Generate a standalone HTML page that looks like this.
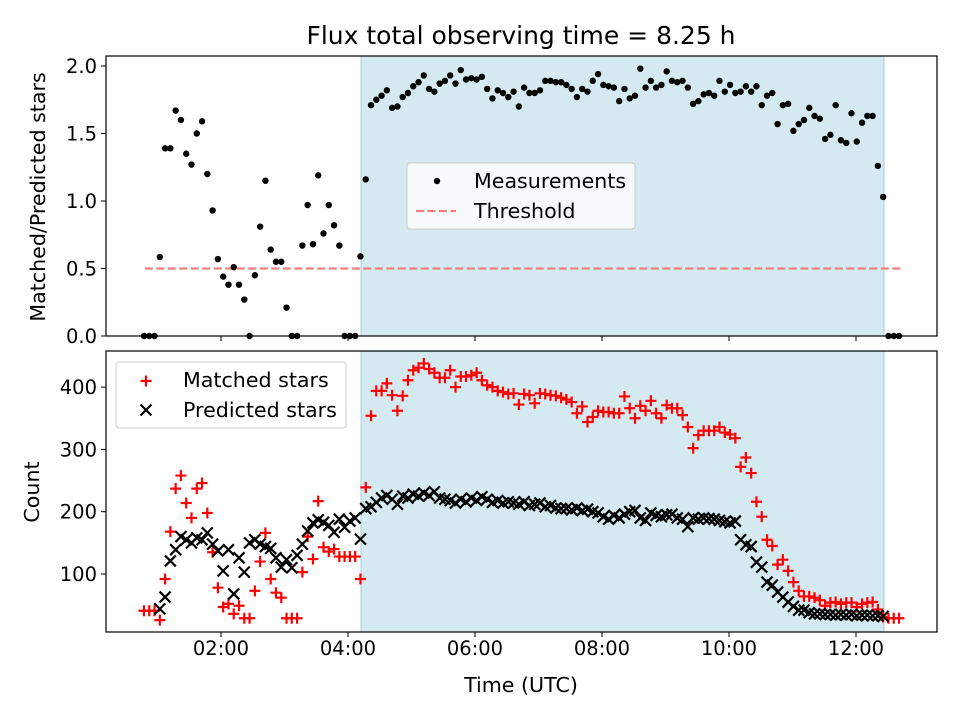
<!DOCTYPE html>
<html><head><meta charset="utf-8"><style>
body{margin:0;background:#fff;}
svg{display:block;font-family:"DejaVu Sans","Liberation Sans",sans-serif;}
</style></head><body>
<svg id="chart" width="960" height="720" viewBox="0 0 960 720"></svg>
<script>
// ---- data ----
const startHour = 0.787;
const stepHour = 0.08315;
const ratioValues = [0,0,0,0.585,1.39,1.39,1.67,1.60,1.35,1.27,1.50,1.59,1.20,0.93,0.57,0.44,0.38,0.51,0.38,0.27,0,0.45,0.81,1.15,0.64,0.55,0.55,0.21,0,0,0.67,0.97,0.68,1.19,0.76,0.97,0.82,0.67,0,0,0,0.59,1.16,
1.71,1.75,1.78,1.82,1.69,1.70,1.77,1.80,1.85,1.88,1.93,1.83,1.81,1.87,1.89,1.93,1.87,1.97,1.90,1.91,1.90,1.92,1.83,1.76,1.82,1.80,1.77,1.81,1.70,1.84,1.80,1.80,1.82,1.89,1.89,1.88,1.88,1.86,1.83,1.77,1.83,1.81,1.89,1.94,1.86,1.85,1.84,1.74,1.83,1.76,1.78,
1.98,1.84,1.89,1.84,1.86,1.96,1.89,1.88,1.89,1.84,1.72,1.74,1.79,1.80,1.78,1.89,1.81,1.86,1.80,1.81,1.85,1.81,1.85,1.71,1.78,1.80,1.57,1.71,1.72,1.52,1.57,1.60,1.69,1.63,1.61,1.46,1.49,1.71,1.45,1.43,1.65,1.44,1.58,1.63,1.63,1.26,1.03,0,0,0];
const matchedValues = [41,41,41,26,92,168,237,258,214,190,237,246,198,135,78,47,52,36,49,29,29,73,120,166,92,70,62,29,29,29,103,160,124,217,143,136,140,128,128,128,128,92,239,
354,394,394,406,387,362,386,411,427,431,438,429,423,415,415,427,400,417,417,419,423,411,403,400,394,392,389,390,372,389,387,374,390,389,387,386,383,380,376,358,369,344,352,362,360,360,358,358,385,366,350,
370,362,378,358,350,371,366,366,355,336,302,323,330,330,330,336,327,324,318,272,287,262,216,192,155,145,115,123,105,87,73,64,64,62,58,49,54,55,52,54,54,47,52,54,55,43,31,29,29,29];
const predictedValues = [null,null,null,44,63,121,139,160,155,150,158,155,166,148,137,105,139,68,126,103,150,155,148,144,141,126,111,123,110,130,148,169,182,187,183,178,167,188,175,185,190,156,205,
208,215,222,226,220,212,225,222,228,225,230,226,232,222,220,218,214,220,216,222,218,224,220,215,218,214,216,214,212,216,210,212,214,208,210,206,205,205,203,206,202,204,200,198,192,188,194,190,196,200,202,
190,186,198,194,192,195,196,190,188,176,190,188,190,189,188,186,184,182,185,155,147,144,119,111,87,82,71,63,55,48,42,42,38,36,36,35,35,34,35,34,35,33,34,34,33,33,32,null,null,null];
const thresholdValue = 0.5;
const thresholdRange = [0.80, 12.71];
const shadeRange = [4.205, 12.44];
const xTickHours = [2,4,6,8,10,12];
const xTickLabels = ["02:00","04:00","06:00","08:00","10:00","12:00"];
const topYTicks = [0,0.5,1.0,1.5,2.0];
const topYLabels = ["0.0","0.5","1.0","1.5","2.0"];
const botYTicks = [100,200,300,400];
const botYLabels = ["100","200","300","400"];

// ---- scales ----
const X0=106, X1=937;
const xs = h => 94 + h*63.5;
const yTop = v => 336 - v*135;
const yBot = v => 636.3 - v*0.623;
const NS="http://www.w3.org/2000/svg";
const svg=document.getElementById('chart');
function mk(tag, attrs, parent){const e=document.createElementNS(NS,tag);for(const k in attrs)e.setAttribute(k,attrs[k]);(parent||svg).appendChild(e);return e;}
const times = ratioValues.map((_,i)=>startHour+i*stepHour);
const FS=19.5, LFS=20.6;

function panel(name, top, bottom, yScale, ticks, labels, showXLabels){
  const g=mk('g',{});
  
  
  const sh=mk('rect',{x:xs(shadeRange[0]),y:top,width:xs(shadeRange[1])-xs(shadeRange[0]),height:bottom-top,fill:'#d4eaf0',stroke:'#a8d0dc','stroke-width':1},g);
  
  
  ticks.forEach((t,i)=>{
    const y=yScale(t);
    mk('line',{x1:X0-5,x2:X0,y1:y,y2:y,stroke:'#000','stroke-width':1},g);
    const tx=mk('text',{x:X0-9,y:y+7,'text-anchor':'end','font-size':FS},g);
    tx.textContent=labels[i];
    
    
  });
  xTickHours.forEach((h,i)=>{
    const x=xs(h);
    mk('line',{x1:x,x2:x,y1:bottom,y2:bottom+5,stroke:'#000','stroke-width':1},g);
    if(showXLabels){
      const tx=mk('text',{x:x,y:bottom+23,'text-anchor':'middle','font-size':FS},g);
      tx.textContent=xTickLabels[i];
      
      
    }
  });
  return g;
}
const gTop=panel('ratio-panel',56,336,yTop,topYTicks,topYLabels,false);
const gBot=panel('count-panel',351,632,yBot,botYTicks,botYLabels,true);

// threshold
const th=mk('line',{x1:xs(thresholdRange[0]),x2:xs(thresholdRange[1]),y1:yTop(thresholdValue),y2:yTop(thresholdValue),stroke:'#f08080','stroke-width':2.2,'stroke-dasharray':'8,3.5'},gTop);



// measurements
ratioValues.forEach((v,i)=>{
  if(v===null)return;
  const c=mk('circle',{cx:xs(times[i]),cy:yTop(v),r:3.2,fill:'#000'},gTop);
  
  
});
function plus(x,y,g,col){return mk('path',{d:`M${x-5.5},${y}H${x+5.5}M${x},${y-5.5}V${y+5.5}`,stroke:col,'stroke-width':2.2,fill:'none'},g);}
function cross(x,y,g,col){return mk('path',{d:`M${x-5.5},${y-5.5}L${x+5.5},${y+5.5}M${x-5.5},${y+5.5}L${x+5.5},${y-5.5}`,stroke:col,'stroke-width':2.2,fill:'none'},g);}
matchedValues.forEach((v,i)=>{
  if(v===null)return;
  const p=plus(xs(times[i]),yBot(v),gBot,'#ff0000');
  
  
});
predictedValues.forEach((v,i)=>{
  if(v===null)return;
  const p=cross(xs(times[i]),yBot(v),gBot,'#000');
  
  
});

// frames
[[56,336,'ratio-frame'],[351,632,'count-frame']].forEach(f=>{
  const r=mk('rect',{x:X0,y:f[0],width:X1-X0,height:f[1]-f[0],fill:'none',stroke:'#000','stroke-width':1.2});
  
  
});

// legends
const lg1=mk('g',{});


mk('rect',{x:407,y:163,width:228,height:66,rx:3,fill:'#fff','fill-opacity':0.8,stroke:'#ccc'},lg1);
mk('circle',{cx:437,cy:181,r:3.2,fill:'#000'},lg1);
let t=mk('text',{x:474,y:188,'font-size':LFS},lg1);t.textContent='Measurements';


mk('line',{x1:416,x2:456,y1:211,y2:211,stroke:'#f08080','stroke-width':2.2,'stroke-dasharray':'8,3.5'},lg1);
t=mk('text',{x:474,y:218,'font-size':LFS},lg1);t.textContent='Threshold';



const lg2=mk('g',{});


mk('rect',{x:116,y:362,width:230,height:66,rx:3,fill:'#fff','fill-opacity':0.8,stroke:'#ccc'},lg2);
plus(146,381,lg2,'#ff0000');
t=mk('text',{x:183,y:387,'font-size':LFS},lg2);t.textContent='Matched stars';


cross(146,410,lg2,'#000');
t=mk('text',{x:183,y:417,'font-size':LFS},lg2);t.textContent='Predicted stars';



// titles
t=mk('text',{x:521,y:44,'text-anchor':'middle','font-size':25});t.textContent='Flux total observing time = 8.25 h';


t=mk('text',{x:521,y:692,'text-anchor':'middle','font-size':LFS});t.textContent='Time (UTC)';


t=mk('text',{x:0,y:0,'text-anchor':'middle','font-size':LFS,transform:'translate(45,197) rotate(-90)'});t.textContent='Matched/Predicted stars';


t=mk('text',{x:0,y:0,'text-anchor':'middle','font-size':LFS,transform:'translate(39,492) rotate(-90)'});t.textContent='Count';


</script>
</body></html>
